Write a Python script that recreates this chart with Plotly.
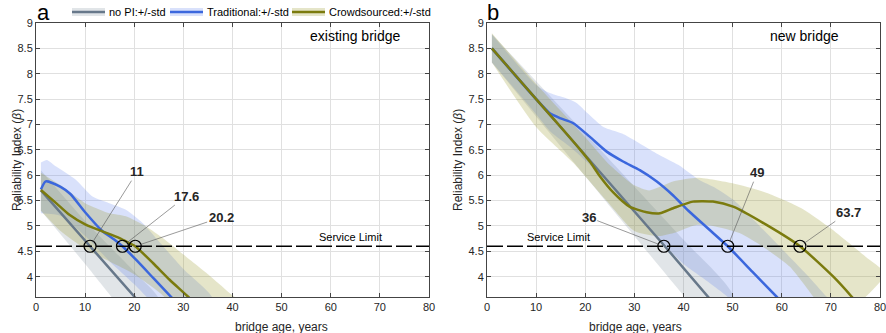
import plotly.graph_objects as go

# ---------------- data ----------------
# panel a : existing bridge
a_nopi_x = [1, 11, 21]
a_nopi_y = [5.7, 4.6, 3.5]
a_nopi_up_x = [1, 10, 20, 25]
a_nopi_up = [6.1, 5.1, 4.1, 3.55]
a_nopi_lo_x = [1, 10, 15.4, 20]
a_nopi_lo = [5.3, 4.25, 3.6, 3.05]

a_trad_x = [1, 2, 5, 7, 10, 13.5, 16, 17.6, 20.5, 24, 28]
a_trad_y = [5.72, 5.88, 5.77, 5.63, 5.27, 4.9, 4.73, 4.6, 4.32, 3.96, 3.55]
a_trad_up_x = [1, 2.2, 4.1, 8.1, 11.5, 14.9, 18.3, 21.7, 25, 30, 36]
a_trad_up = [6.25, 6.3, 6.17, 5.91, 5.58, 5.45, 5.32, 5.06, 4.7, 4.15, 3.55]
a_trad_lo_x = [1, 5, 10, 15, 20, 25, 28]
a_trad_lo = [5.25, 5.2, 4.8, 4.3, 3.85, 3.35, 3.05]

a_crowd_x = [1, 4.1, 6.8, 10.2, 13.6, 17, 19, 20.2, 23.8, 27.2, 30.9, 33]
a_crowd_y = [5.71, 5.45, 5.22, 5.02, 4.89, 4.76, 4.66, 4.6, 4.27, 3.94, 3.61, 3.4]
a_crowd_up_x = [1, 5, 10, 15, 18.3, 22.4, 26, 30.5, 35, 39.4, 42]
a_crowd_up = [6.05, 5.8, 5.45, 5.25, 5.19, 4.99, 4.75, 4.4, 4.05, 3.68, 3.45]
a_crowd_lo_x = [1, 5, 10, 15, 20, 25, 30]
a_crowd_lo = [5.3, 4.9, 4.55, 4.3, 4.05, 3.7, 3.3]

# panel b : new bridge
b_nopi_x = [1, 36.2, 46]
b_nopi_y = [8.5, 4.6, 3.49]
b_nopi_up_x = [1, 20, 40, 50]
b_nopi_up = [8.78, 6.82, 4.73, 3.65]
b_nopi_lo_x = [1, 20, 40, 50]
b_nopi_lo = [8.22, 5.98, 3.63, 2.49]

b_trad_x = [1, 10, 12.8, 15, 17.5, 20.9, 24.3, 27.7, 31.1, 34.5, 37.9, 41, 45, 49, 54, 58.9, 62]
b_trad_y = [8.5, 7.5, 7.22, 7.12, 7.03, 6.76, 6.47, 6.27, 6.1, 5.88, 5.6, 5.3, 4.95, 4.6, 4.1, 3.61, 3.3]
b_trad_up_x = [1, 10, 12.8, 16, 18.3, 20.5, 23.7, 27.5, 30.5, 34.5, 39, 43.3, 46.5, 50.1, 55, 60, 65, 69.1, 72]
b_trad_up = [8.78, 7.78, 7.62, 7.52, 7.42, 7.22, 6.95, 6.82, 6.66, 6.43, 6.2, 5.9, 5.75, 5.52, 5.05, 4.55, 4.05, 3.61, 3.3]
b_trad_lo_x = [1, 10, 13, 17, 21, 25, 30, 35, 40, 45, 49, 55, 60]
b_trad_lo = [8.22, 7.2, 6.85, 6.55, 6.2, 5.8, 5.25, 4.75, 4.25, 3.9, 3.6, 3.0, 2.5]

b_crowd_x = [1, 10, 15, 19, 21, 22.9, 25.7, 29, 32.5, 35.2, 37.9, 41.9, 46, 50.1, 56.9, 63.7, 70.5, 74.2, 76]
b_crowd_y = [8.5, 7.5, 6.95, 6.5, 6.26, 5.99, 5.66, 5.38, 5.27, 5.25, 5.35, 5.48, 5.48, 5.38, 5.02, 4.6, 4.0, 3.61, 3.4]
b_crowd_up_x = [1, 10, 20, 25, 30, 33, 38, 43, 50, 57, 64, 70, 77, 81]
b_crowd_up = [8.8, 7.8, 6.75, 6.2, 5.8, 5.7, 5.88, 5.95, 5.84, 5.65, 5.35, 4.95, 4.4, 4.05]
b_crowd_lo_x = [1, 10, 17.6, 24.3, 30, 35, 38, 42.6, 46, 51.4, 56, 61.6, 66.4, 70]
b_crowd_lo = [8.22, 6.95, 6.24, 5.5, 4.9, 4.8, 4.86, 5.02, 5.0, 4.86, 4.6, 4.2, 3.61, 3.1]

service_limit = 4.6
a_cross = [11, 17.6, 20.2]
b_cross = [36, 49, 63.7]
a_labels = ["11", "17.6", "20.2"]
b_labels = ["36", "49", "63.7"]
# label positions (x, y) for the crossing annotations
a_label_pos = [(20.6, 6.07), (30.6, 5.59), (37.7, 5.17)]
b_label_pos = [(20.7, 5.17), (55.0, 6.05), (73.5, 5.27)]

legend_names = ["no PI:+/-std", "Traditional:+/-std", "Crowdsourced:+/-std"]

# ---------------- styling ----------------
FONT = "Liberation Sans, Arial, sans-serif"
c_line = ["#67788a", "#3b67dd", "#7b7b0e"]
c_band = ["rgba(120,135,150,0.22)", "rgba(80,120,235,0.22)", "rgba(150,150,40,0.25)"]

fig = go.Figure()


def add_band(xa, up_x, up, lo_x, lo, color):
    fig.add_trace(
        go.Scatter(
            x=list(up_x) + list(lo_x)[::-1],
            y=list(up) + list(lo)[::-1],
            fill="toself",
            fillcolor=color,
            line=dict(width=0, shape="spline", smoothing=0.6),
            mode="lines",
            hoverinfo="skip",
            showlegend=False,
            xaxis=xa,
            yaxis="y" if xa == "x" else "y2",
        )
    )


def add_line(xa, xs, ys, color):
    fig.add_trace(
        go.Scatter(
            x=xs,
            y=ys,
            mode="lines",
            line=dict(color=color, width=2.5, shape="spline", smoothing=0.6),
            showlegend=False,
            xaxis=xa,
            yaxis="y" if xa == "x" else "y2",
        )
    )


# panel a bands then lines
add_band("x", a_nopi_up_x, a_nopi_up, a_nopi_lo_x, a_nopi_lo, c_band[0])
add_band("x", a_trad_up_x, a_trad_up, a_trad_lo_x, a_trad_lo, c_band[1])
add_band("x", a_crowd_up_x, a_crowd_up, a_crowd_lo_x, a_crowd_lo, c_band[2])
add_line("x", a_nopi_x, a_nopi_y, c_line[0])
add_line("x", a_trad_x, a_trad_y, c_line[1])
add_line("x", a_crowd_x, a_crowd_y, c_line[2])

# panel b
add_band("x2", b_nopi_up_x, b_nopi_up, b_nopi_lo_x, b_nopi_lo, c_band[0])
add_band("x2", b_trad_up_x, b_trad_up, b_trad_lo_x, b_trad_lo, c_band[1])
add_band("x2", b_crowd_up_x, b_crowd_up, b_crowd_lo_x, b_crowd_lo, c_band[2])
add_line("x2", b_nopi_x, b_nopi_y, c_line[0])
add_line("x2", b_trad_x, b_trad_y, c_line[1])
add_line("x2", b_crowd_x, b_crowd_y, c_line[2])

# service limit + crossing markers
for xa, ya, cross in [("x", "y", a_cross), ("x2", "y2", b_cross)]:
    fig.add_trace(
        go.Scatter(
            x=[0, 80], y=[service_limit, service_limit], mode="lines",
            line=dict(color="black", width=1.5, dash="16px,4px"),
            showlegend=False, xaxis=xa, yaxis=ya,
        )
    )
    fig.add_trace(
        go.Scatter(
            x=cross, y=[service_limit] * len(cross), mode="markers",
            marker=dict(symbol="circle-open", size=12, color="black", line=dict(width=1.2)),
            showlegend=False, xaxis=xa, yaxis=ya,
        )
    )

annotations = []
for xa, ya, cross, labels, pos in [
    ("x", "y", a_cross, a_labels, a_label_pos),
    ("x2", "y2", b_cross, b_labels, b_label_pos),
]:
    for cx, lab, (tx, ty) in zip(cross, labels, pos):
        annotations.append(
            dict(
                x=cx, y=service_limit, xref=xa, yref=ya,
                ax=tx, ay=ty, axref=xa, ayref=ya,
                text="<b>" + lab + "</b>", showarrow=True, arrowhead=0,
                arrowwidth=0.6, arrowcolor="#555555", standoff=5,
                font=dict(family=FONT, size=13, color="#262626"),
            )
        )

plot_w = 844.0
plot_h = 274.0
annotations += [
    dict(x=64, y=4.6, xref="x", yref="y", text="Service Limit", showarrow=False,
         yanchor="bottom", yshift=1, font=dict(family=FONT, size=11, color="black")),
    dict(x=14.5, y=4.6, xref="x2", yref="y2", text="Service Limit", showarrow=False,
         yanchor="bottom", yshift=1, font=dict(family=FONT, size=11, color="black")),
    dict(x=65, y=8.74, xref="x", yref="y", text="existing bridge", showarrow=False,
         font=dict(family=FONT, size=14, color="black")),
    dict(x=64.7, y=8.74, xref="x2", yref="y2", text="new bridge", showarrow=False,
         font=dict(family=FONT, size=14, color="black")),
    dict(x=0.0, y=1 + 10 / plot_h, xref="paper", yref="paper", text="a", showarrow=False,
         xanchor="left", yanchor="middle", borderpad=0,
         font=dict(family=FONT, size=22, color="black")),
    dict(x=451 / plot_w, y=1 + 10 / plot_h, xref="paper", yref="paper", text="b", showarrow=False,
         xanchor="left", yanchor="middle", xshift=-1, borderpad=0,
         font=dict(family=FONT, size=22, color="black")),
    # axis titles
    dict(x=196.5 / plot_w, y=-30 / plot_h, xref="paper", yref="paper", text="bridge age, years",
         showarrow=False, yanchor="middle", font=dict(family=FONT, size=12, color="#262626")),
    dict(x=647.5 / plot_w, y=-30 / plot_h, xref="paper", yref="paper", text="bridge age, years",
         showarrow=False, yanchor="middle", font=dict(family=FONT, size=12, color="#262626")),
    dict(x=-28 / plot_w, y=0.5, xref="paper", yref="paper", text="Reliability Index (<i>β</i>)",
         textangle=-90, showarrow=False, font=dict(family=FONT, size=12, color="#262626")),
    dict(x=422 / plot_w, y=0.5, xref="paper", yref="paper", text="Reliability Index (<i>β</i>)",
         textangle=-90, showarrow=False, font=dict(family=FONT, size=12, color="#262626")),
]

# manual legend across top of panel a (paper coordinates)
shapes = []
sw_x0 = [72, 170, 292]
for i, name in enumerate(legend_names):
    x0 = (sw_x0[i] - 36) / plot_w
    x1 = (sw_x0[i] + 33 - 36) / plot_w
    shapes.append(dict(type="rect", xref="paper", yref="paper", x0=x0, x1=x1,
                       y0=1 + 7 / plot_h, y1=1 + 15 / plot_h,
                       fillcolor=c_band[i], line=dict(width=0)))
    shapes.append(dict(type="line", xref="paper", yref="paper", x0=x0, x1=x1,
                       y0=1 + 11 / plot_h, y1=1 + 11 / plot_h,
                       line=dict(color=c_line[i], width=2.5)))
    annotations.append(dict(x=x1, y=1 + 11 / plot_h, xref="paper", yref="paper",
                            text=name, showarrow=False, xanchor="left", yanchor="middle",
                            xshift=2, font=dict(family=FONT, size=11, color="black")))

axis_common = dict(
    range=[0, 80], tickvals=[0, 10, 20, 30, 40, 50, 60, 70, 80],
    showgrid=True, gridcolor="#e0e0e0", gridwidth=1,
    showline=True, linecolor="#444444", linewidth=1, mirror="ticks",
    ticks="inside", ticklen=4, tickcolor="#444444", automargin=False,
    ticklabeloverflow="allow",
    tickfont=dict(family=FONT, size=11, color="#262626"), zeroline=False,
)
yaxis_common = dict(
    range=[3.6, 9], tickvals=[4, 4.5, 5, 5.5, 6, 6.5, 7, 7.5, 8, 8.5, 9],
    ticktext=["4", "4.5", "5", "5.5", "6", "6.5", "7", "7.5", "8", "8.5", "9"],
    showgrid=True, gridcolor="#e0e0e0", gridwidth=1,
    showline=True, linecolor="#444444", linewidth=1, mirror="ticks",
    ticks="inside", ticklen=4, tickcolor="#444444", automargin=False,
    tickfont=dict(family=FONT, size=11, color="#262626"), zeroline=False,
)

fig.update_layout(
    width=886, height=333,
    margin=dict(l=36, r=6, t=23, b=36),
    plot_bgcolor="white", paper_bgcolor="white",
    xaxis=dict(domain=[0, 393 / plot_w], anchor="y", **axis_common),
    yaxis=dict(domain=[0, 1], anchor="x", **yaxis_common),
    xaxis2=dict(domain=[451 / plot_w, 1], anchor="y2", **axis_common),
    yaxis2=dict(domain=[0, 1], anchor="x2", **yaxis_common),
    annotations=annotations,
    shapes=shapes,
    showlegend=False,
)

# drop the default page margin so the 886x333 figure sits flush in the window
fig.write_html(
    "out.html",
    config={"displayModeBar": False},
    post_script="document.body.style.margin='0';",
)
